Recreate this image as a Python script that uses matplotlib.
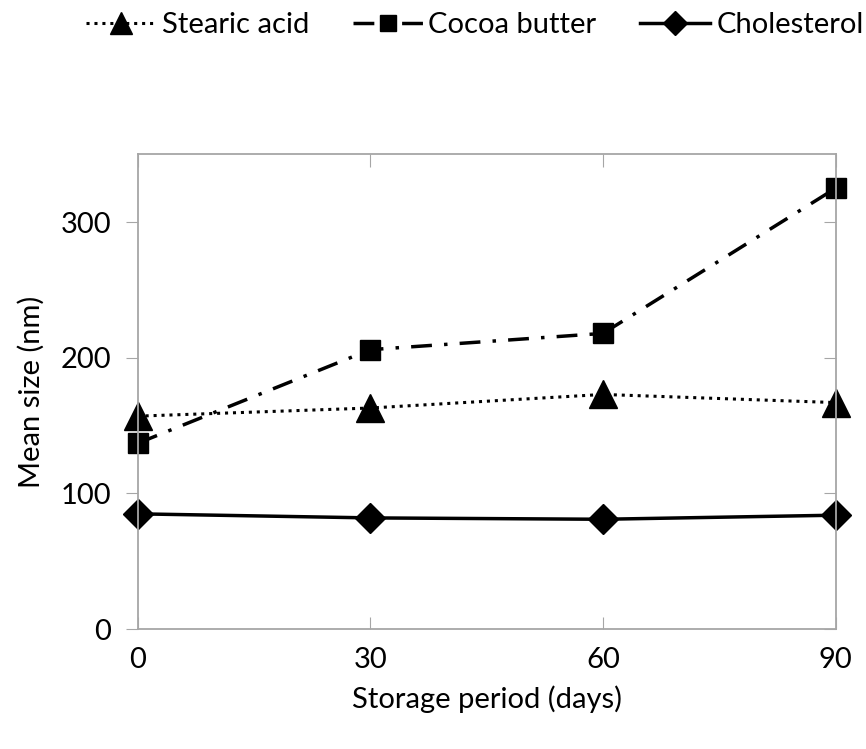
import matplotlib
matplotlib.use('Agg')
import matplotlib.pyplot as plt

plt.rcParams['font.family'] = ['Lato', 'DejaVu Sans']

days = [0, 30, 60, 90]
stearic = [157, 163, 173, 167]
cocoa = [137, 206, 218, 325]
cholesterol = [85, 82, 81, 84]

fig = plt.figure(figsize=(8.66, 7.49), dpi=100)
ax = fig.add_axes([0.159, 0.160, 0.806, 0.634])

ax.plot(days, stearic, color='black', lw=2.2, ls=(0, (1, 1.6)),
        marker='^', markersize=20, label='Stearic acid', clip_on=False)
ax.plot(days, cocoa, color='black', lw=2.5, ls=(0, (6, 3.5, 1, 3.5)),
        marker='s', markersize=15, label='Cocoa butter', clip_on=False)
ax.plot(days, cholesterol, color='black', lw=2.5, ls='-',
        marker='D', markersize=15, label='Cholesterol', clip_on=False)

ax.set_xlim(0, 90)
ax.set_ylim(0, 350)
ax.set_xticks(days)
ax.set_yticks([0, 100, 200, 300])

for s in ax.spines.values():
    s.set_color('#a6a6a6')
    s.set_linewidth(1.3)

ax.tick_params(axis='y', direction='out', length=9, color='#a6a6a6',
               labelsize=21, pad=10, right=True)
ax.tick_params(axis='x', direction='in', length=9, color='#a6a6a6',
               labelsize=21, pad=13, top=True)
for t in ax.yaxis.get_ticklines()[1::2]:
    t.set_marker(0)

ax.set_xlabel('Storage period (days)', fontsize=21, labelpad=9)
ax.set_ylabel('Mean size (nm)', fontsize=21)
ax.yaxis.set_label_coords(-0.133, 0.5)

fig.legend(loc='center', bbox_to_anchor=(0.548, 0.966), ncol=3,
           frameon=False, fontsize=21, handlelength=2.4, columnspacing=1.5,
           handletextpad=0.2, markerscale=0.8)

fig.savefig('out.png', dpi=100)
